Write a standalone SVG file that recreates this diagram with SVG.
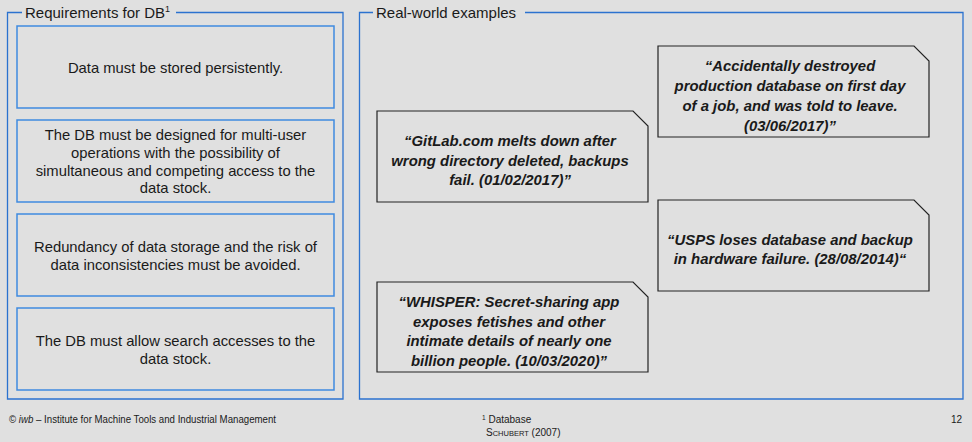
<svg xmlns="http://www.w3.org/2000/svg" width="972" height="442" viewBox="0 0 972 442">
<style>
.frame{fill:none;stroke:#2b72cf;stroke-width:1.3}
.req{fill:#e0e0e0;stroke:#3f8ae0;stroke-width:1.5}
.quote{fill:#e0e0e0;stroke:#222;stroke-width:1.2}
.t{font-family:"Liberation Sans",Arial,sans-serif;font-size:14.8px;fill:#1a1a1a;text-anchor:middle}
.q{font-family:"Liberation Sans",Arial,sans-serif;font-size:14.9px;font-weight:bold;font-style:italic;fill:#1a1a1a;text-anchor:middle}
.h{font-family:"Liberation Sans",Arial,sans-serif;font-size:15px;fill:#1a1a1a}
.f{font-family:"Liberation Sans",Arial,sans-serif;font-size:10px;fill:#1a1a1a}
</style>
<rect width="972" height="442" fill="#e0e0e0"/>
<g id="frame-requirements">
<path class="frame" d="M22,12.5 H7.5 V399 H343 V12.5 H176"/>
<text class="h" x="25" y="18">Requirements for DB<tspan font-size="9" dy="-6">1</tspan></text>
</g>
<g id="frame-examples">
<path class="frame" d="M373,12.5 H359.5 V399 H963 V12.5 H525"/>
<text class="h" x="376" y="18">Real-world examples</text>
</g>
<g id="req1">
<rect class="req" x="17" y="26" width="317" height="82"/>
<text class="t" x="175.5" y="73">Data must be stored persistently.</text>
</g>
<g id="req2">
<rect class="req" x="17" y="120" width="317" height="82"/>
<text class="t" x="175.5" y="140">The DB must be designed for multi-user</text>
<text class="t" x="175.5" y="158">operations with the possibility of</text>
<text class="t" x="175.5" y="176">simultaneous and competing access to the</text>
<text class="t" x="175.5" y="193">data stock.</text>
</g>
<g id="req3">
<rect class="req" x="17" y="214" width="317" height="82"/>
<text class="t" x="175.5" y="252">Redundancy of data storage and the risk of</text>
<text class="t" x="175.5" y="270">data inconsistencies must be avoided.</text>
</g>
<g id="req4">
<rect class="req" x="17" y="308" width="317" height="82"/>
<text class="t" x="175.5" y="346">The DB must allow search accesses to the</text>
<text class="t" x="175.5" y="364">data stock.</text>
</g>
<g id="quote-gitlab">
<path class="quote" d="M377,111 H633 L648,126 V202 H377 Z"/>
<text class="q" x="510" y="146">“GitLab.com melts down after</text>
<text class="q" x="510" y="166">wrong directory deleted, backups</text>
<text class="q" x="510" y="185">fail. (01/02/2017)”</text>
</g>
<g id="quote-accident">
<path class="quote" d="M658,46 H914 L929,61 V137 H658 Z"/>
<text class="q" x="790" y="71">“Accidentally destroyed</text>
<text class="q" x="790" y="91">production database on first day</text>
<text class="q" x="790" y="111">of a job, and was told to leave.</text>
<text class="q" x="790" y="131">(03/06/2017)”</text>
</g>
<g id="quote-usps">
<path class="quote" d="M658,200 H914 L929,215 V291 H658 Z"/>
<text class="q" x="790" y="245">“USPS loses database and backup</text>
<text class="q" x="790" y="264">in hardware failure. (28/08/2014)“</text>
</g>
<g id="quote-whisper">
<path class="quote" d="M377,282 H633 L648,297 V372 H377 Z"/>
<text class="q" x="509" y="307">“WHISPER: Secret-sharing app</text>
<text class="q" x="509" y="327">exposes fetishes and other</text>
<text class="q" x="509" y="346">intimate details of nearly one</text>
<text class="q" x="509" y="366">billion people. (10/03/2020)”</text>
</g>
<g id="footer">
<text class="f" x="9" y="423" textLength="267" lengthAdjust="spacingAndGlyphs">© <tspan font-style="italic">iwb</tspan> – Institute for Machine Tools and Industrial Management</text>
<text class="f" x="482" y="423"><tspan font-size="6.5" dy="-3">1</tspan><tspan dy="3"> Database</tspan></text>
<text class="f" x="486" y="436">S<tspan font-size="7.5">CHUBERT</tspan> (2007)</text>
<text class="f" x="951" y="423">12</text>
</g>
</svg>
